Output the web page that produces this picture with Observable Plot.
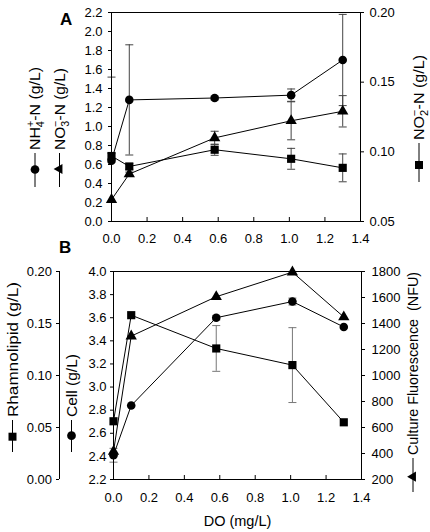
<!DOCTYPE html>
<html><head><meta charset="utf-8">
<script src="https://cdn.jsdelivr.net/npm/d3@7"></script>
<script src="https://cdn.jsdelivr.net/npm/@observablehq/plot@0.6"></script>
<style>
body{margin:0;background:#fff;}
#wrap{position:relative;width:430px;height:532px;font-family:Arial,"Liberation Sans",sans-serif;background:#fff;}
#wrap svg{position:absolute;left:0;}
</style></head><body><div id="wrap"></div>
<script>
// ---------- shared ----------
const xTicks = [0, 0.2, 0.4, 0.6, 0.8, 1.0, 1.2, 1.4];

// ---------- Panel A ----------
const doA = [0.0, 0.1, 0.58, 1.01, 1.3];
const nh4 = [0.64, 1.28, 1.30, 1.33, 1.70];
const nh4Err = [0.88, 0.58, 0.02, 0.065, 0.48];
const no3 = [0.23, 0.50, 0.88, 1.06, 1.16];
const no3Err = [0, 0.02, 0.07, 0.20, 0.165];
const no2 = [0.097, 0.0895, 0.1015, 0.095, 0.0885];
const no2Err = [0.002, 0.002, 0.004, 0.0075, 0.010];
const yTicksA = [0, 0.2, 0.4, 0.6, 0.8, 1.0, 1.2, 1.4, 1.6, 1.8, 2.0, 2.2];
const no2Ticks = [0.05, 0.10, 0.15, 0.20];

// ---------- Panel B ----------
const doB = [0.0, 0.1, 0.58, 1.01, 1.3];
const rhamno = [0.056, 0.158, 0.126, 0.110, 0.055];
const rhamnoErr = [0, 0, 0.022, 0.036, 0];
const cell = [2.41, 2.84, 3.60, 3.74, 3.52];
const cellErr = [0.06, 0, 0.02, 0.03, 0];
const fluor = [415, 1303, 1606, 1795, 1450];
const cellTicks = [2.2, 2.4, 2.6, 2.8, 3.0, 3.2, 3.4, 3.6, 3.8, 4.0];
const rhamnoTicks = [0, 0.05, 0.10, 0.15, 0.20];
const fluorTicks = [200, 400, 600, 800, 1000, 1200, 1400, 1600, 1800];

const FONT = "Arial, 'Liberation Sans', sans-serif";
const f1 = d3.format(".1f"), f2 = d3.format(".2f");

function series(xs, vs, es, map = d => d) {
  return xs.map((x, i) => {
    const e = es ? es[i] : 0;
    return {x, y: map(vs[i]), lo: map(vs[i] - e), hi: map(vs[i] + e), e};
  });
}
const capSym = {draw(ctx) { ctx.moveTo(-4, 0); ctx.lineTo(4, 0); }};
function errMarks(data, ymin, color) {
  const d = data.filter(r => r.e > 0);
  const caps = d.flatMap(r => [{x: r.x, y: r.lo}, {x: r.x, y: r.hi}]).filter(c => c.y > ymin + 1e-9);
  return [
    Plot.ruleX(d, {x: "x", y1: r => Math.max(r.lo, ymin), y2: "hi", stroke: color, strokeWidth: 1}),
    Plot.dot(caps, {x: "x", y: "y", symbol: capSym, r: 4, fill: "none", stroke: color, strokeWidth: 1})
  ];
}
function seriesMarks(data, symbol, r) {
  return [
    Plot.line(data, {x: "x", y: "y", stroke: "black", strokeWidth: 1}),
    Plot.dot(data, {x: "x", y: "y", symbol, r, fill: "black", stroke: "none"})
  ];
}

// rotated axis title with legend symbol (reads bottom-to-top)
function rotLabel(svg, {cx, y0, lineLen, markerAt, symbol, size, parts, textLen}) {
  const g = d3.select(svg).append("g").attr("transform", `translate(${cx},${y0}) rotate(-90)`);
  g.append("line").attr("x1", 0).attr("x2", lineLen).attr("y1", 0).attr("y2", 0).attr("stroke", "black").attr("stroke-width", 1);
  g.append("path").attr("transform", `translate(${markerAt},0)`).attr("d", d3.symbol(symbol, size)()).attr("fill", "black");
  const t = g.append("text").attr("x", lineLen + 3).attr("y", 5.2)
    .attr("text-anchor", "start")
    .attr("font-family", FONT).attr("font-size", 14.5).attr("fill", "black")
    .style("white-space", "pre");
  if (textLen) t.attr("textLength", textLen).attr("lengthAdjust", "spacingAndGlyphs");
  parts.forEach(p => {
    const s = t.append("tspan").text(p.t);
    if (p.size) s.attr("font-size", p.size);
    if (p.dy) s.attr("dy", p.dy);
    if (p.dx) s.attr("dx", p.dx);
  });
}

const wrap = document.getElementById("wrap");

// ================= Panel A =================
const toA = d3.scaleLinear([0.05, 0.20], [0, 2.2]);
const sNH4 = series(doA, nh4, nh4Err);
const sNO3 = series(doA, no3, no3Err);
const sNO2 = series(doA, no2, no2Err, toA);

const plotA = Plot.plot({
  width: 430, height: 250,
  marginLeft: 111, marginRight: 70, marginTop: 12, marginBottom: 29,
  x: {domain: [0, 1.4], label: null},
  y: {domain: [0, 2.2], label: null},
  style: {fontFamily: FONT, fontSize: "13px", color: "black", background: "transparent", overflow: "visible"},
  marks: [
    ...errMarks(sNH4, 0, "#444"),
    ...errMarks(sNO3, 0, "#444"),
    ...errMarks(sNO2, 0, "#444"),
    ...seriesMarks(sNH4, "circle", 4.3),
    ...seriesMarks(sNO3, "triangle", 4.2),
    ...seriesMarks(sNO2, "square", 4.6),
    Plot.frame({stroke: "black", strokeWidth: 1}),
    Plot.axisX(xTicks, {anchor: "bottom", tickSize: -4, tickPadding: 16, tickFormat: f1, label: null}),
    Plot.axisY(yTicksA, {anchor: "left", tickSize: 3, tickPadding: 6, tickFormat: f1, label: null}),
    Plot.axisY(no2Ticks.map(toA), {anchor: "right", tickSize: 3, tickPadding: 6, tickFormat: d => f2(toA.invert(d)), label: null})
  ]
});
plotA.style.top = "0px";
wrap.appendChild(plotA);

d3.select(plotA).append("text").attr("x", 60).attr("y", 25).attr("text-anchor", "start").attr("font-family", FONT)
  .attr("font-size", 17).attr("font-weight", "bold").text("A");

rotLabel(plotA, {cx: 35, y0: 187, lineLen: 34, markerAt: 17.5, symbol: d3.symbolCircle, size: 60, textLen: 83,
  parts: [{t: "NH"}, {t: "4", size: 10, dy: 4}, {t: "+", size: 10, dx: -5.5, dy: -10}, {t: "-N (g/L)", dy: 6}]});
rotLabel(plotA, {cx: 59.5, y0: 187, lineLen: 34, markerAt: 18, symbol: d3.symbolTriangle, size: 45, textLen: 82,
  parts: [{t: "NO"}, {t: "3", size: 10, dy: 4}, {t: "\u2212", size: 10, dx: -5.5, dy: -10}, {t: "-N (g/L)", dy: 6}]});
rotLabel(plotA, {cx: 419, y0: 182, lineLen: 39, markerAt: 17, symbol: d3.symbolSquare, size: 64, textLen: 85,
  parts: [{t: "NO"}, {t: "2", size: 10, dy: 4}, {t: "\u2212", size: 10, dx: -5.5, dy: -10}, {t: "-N (g/L)", dy: 6}]});

// ================= Panel B =================
const toCellR = d3.scaleLinear([0, 0.20], [2.2, 4.0]);
const toCellF = d3.scaleLinear([200, 1800], [2.2, 4.0]);
const sR = series(doB, rhamno, rhamnoErr, toCellR);
const sC = series(doB, cell, cellErr);
const sF = series(doB, fluor, null, toCellF);

const plotB = Plot.plot({
  width: 430, height: 292,
  marginLeft: 113, marginRight: 69, marginTop: 31, marginBottom: 53,
  x: {domain: [0, 1.4], label: null},
  y: {domain: [2.2, 4.0], label: null},
  style: {fontFamily: FONT, fontSize: "13px", color: "black", background: "transparent", overflow: "visible"},
  marks: [
    ...errMarks(sR, 2.2, "#777"),
    ...errMarks(sC, 2.2, "#777"),
    ...seriesMarks(sR, "square", 4.6),
    ...seriesMarks(sC, "circle", 4.3),
    ...seriesMarks(sF, "triangle", 4.2),
    Plot.frame({stroke: "black", strokeWidth: 1}),
    Plot.ruleX([0], {dx: -54, stroke: "black", strokeWidth: 1}),
    Plot.axisX(xTicks, {anchor: "bottom", tickSize: -4, tickPadding: 17.5, tickFormat: f1, label: null}),
    Plot.axisY(cellTicks, {anchor: "left", tickSize: 3, tickPadding: 4, tickFormat: f1, label: null}),
    Plot.axisY(rhamnoTicks.map(toCellR), {anchor: "left", dx: -54, tickSize: 3, tickPadding: 4.5, tickFormat: d => f2(toCellR.invert(d)), label: null}),
    Plot.axisY(fluorTicks.map(toCellF), {anchor: "right", tickSize: 3, tickPadding: 7, tickFormat: d => String(Math.round(toCellF.invert(d))), label: null}),
    Plot.text(["DO (mg/L)"], {frameAnchor: "bottom", dy: 41.5, lineAnchor: "middle", fontSize: 14.5, fill: "black"})
  ]
});
plotB.style.top = "240px";
wrap.appendChild(plotB);

d3.select(plotB).append("text").attr("x", 59).attr("y", 13).attr("text-anchor", "start").attr("font-family", FONT)
  .attr("font-size", 17).attr("font-weight", "bold").text("B");

rotLabel(plotB, {cx: 12.5, y0: 212, lineLen: 32, markerAt: 15.3, symbol: d3.symbolSquare, size: 64, textLen: 135,
  parts: [{t: "Rhamnolipid (g/L)"}]});
rotLabel(plotB, {cx: 71.5, y0: 212, lineLen: 32, markerAt: 16.3, symbol: d3.symbolCircle, size: 60, textLen: 63,
  parts: [{t: "Cell (g/L)"}]});
rotLabel(plotB, {cx: 413, y0: 252, lineLen: 34, markerAt: 15.3, symbol: d3.symbolTriangle, size: 45, textLen: 183,
  parts: [{t: "Culture Fluorescence  (NFU)"}]});
</script></body></html>
